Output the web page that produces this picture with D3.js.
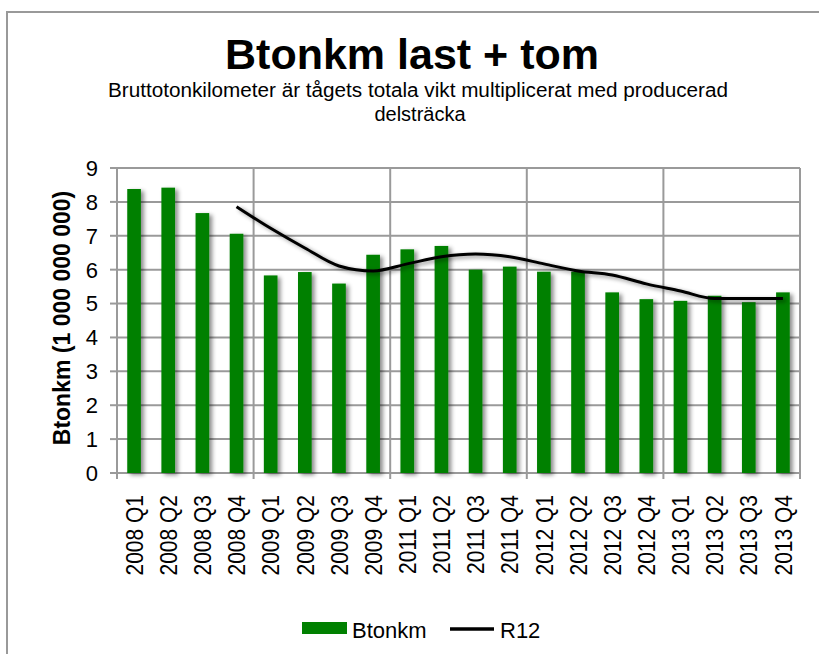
<!DOCTYPE html>
<html>
<head>
<meta charset="utf-8">
<script src="https://cdn.jsdelivr.net/npm/d3@7"></script>
<style>
  body { margin: 0; background: #fff; }
  text { font-family: Arial, "Liberation Sans", sans-serif; }
</style>
</head>
<body>
<div id="chart"></div>
<script>
// data (billions of gross tonne-km)
var categories = ["2008 Q1", "2008 Q2", "2008 Q3", "2008 Q4",
                  "2009 Q1", "2009 Q2", "2009 Q3", "2009 Q4",
                  "2011 Q1", "2011 Q2", "2011 Q3", "2011 Q4",
                  "2012 Q1", "2012 Q2", "2012 Q3", "2012 Q4",
                  "2013 Q1", "2013 Q2", "2013 Q3", "2013 Q4"];
var btonkm = [8.38, 8.42, 7.67, 7.06, 5.83, 5.93, 5.59, 6.44, 6.60, 6.70,
              6.00, 6.09, 5.94, 5.94, 5.33, 5.13, 5.08, 5.23, 5.04, 5.33];
var r12 = [null, null, null, 7.86, 7.22, 6.64, 6.11, 5.96, 6.17, 6.38,
           6.46, 6.38, 6.17, 5.96, 5.84, 5.58, 5.37, 5.15, 5.15, 5.15];
var yTicks = [0, 1, 2, 3, 4, 5, 6, 7, 8, 9];

var titleText = "Btonkm last + tom";
var subtitleLines = ["Bruttotonkilometer är tågets totala vikt multiplicerat med producerad", "delsträcka"];
var yTitle = "Btonkm (1 000 000 000)";
var legendNames = ["Btonkm", "R12"];

var attrs = {
  width: 819,
  height: 654,
  plotLeft: 117,
  plotRight: 800,
  plotTop: 168,
  plotBottom: 473,
  barColor: '#008000',
  lineColor: '#000',
  gridColor: '#9a9a9a',
  gridEvery: 4
};

var svg = d3.select('#chart').append('svg')
  .attr('width', attrs.width)
  .attr('height', attrs.height);

// soft drop shadow like the office chart
var defs = svg.append('defs');
var shadow = defs.append('filter').attr('id', 'shadow')
  .attr('x', '-50%').attr('y', '-10%').attr('width', '200%').attr('height', '130%');
shadow.append('feDropShadow')
  .attr('dx', 3).attr('dy', 2).attr('stdDeviation', 2)
  .attr('flood-color', '#000').attr('flood-opacity', 0.45);

// outer frame
svg.append('rect')
  .attr('x', 7).attr('y', 12)
  .attr('width', 830).attr('height', 670)
  .attr('fill', 'none')
  .attr('stroke', '#999').attr('stroke-width', 2);

var x = d3.scaleBand()
  .domain(categories)
  .range([attrs.plotLeft, attrs.plotRight])
  .paddingInner(0.6)
  .paddingOuter(0.3);

var y = d3.scaleLinear()
  .domain([0, 9])
  .range([attrs.plotBottom, attrs.plotTop]);

var step = x.step();
var gridX = d3.range(0, categories.length + 1, attrs.gridEvery)
  .map(function(i) { return attrs.plotLeft + i * step; });

// horizontal grid
svg.append('g').selectAll('line').data(yTicks).enter().append('line')
  .attr('x1', attrs.plotLeft).attr('x2', attrs.plotRight)
  .attr('y1', function(d) { return y(d); })
  .attr('y2', function(d) { return y(d); })
  .attr('stroke', attrs.gridColor).attr('stroke-width', 2);

// vertical grid every 4 quarters
svg.append('g').selectAll('line').data(gridX).enter().append('line')
  .attr('x1', function(d) { return d; }).attr('x2', function(d) { return d; })
  .attr('y1', attrs.plotTop).attr('y2', attrs.plotBottom + 6)
  .attr('stroke', attrs.gridColor).attr('stroke-width', 2);

// y tick marks
svg.append('g').selectAll('line').data(yTicks).enter().append('line')
  .attr('x1', attrs.plotLeft - 7).attr('x2', attrs.plotLeft)
  .attr('y1', function(d) { return y(d); })
  .attr('y2', function(d) { return y(d); })
  .attr('stroke', attrs.gridColor).attr('stroke-width', 2);

// bars
svg.append('g').attr('filter', 'url(#shadow)')
  .selectAll('rect').data(btonkm).enter().append('rect')
  .attr('x', function(d, i) { return x(categories[i]); })
  .attr('y', function(d) { return y(d); })
  .attr('width', x.bandwidth())
  .attr('height', function(d) { return y(0) - y(d); })
  .attr('fill', attrs.barColor);

// R12 line
var line = d3.line()
  .defined(function(d) { return d != null; })
  .x(function(d, i) { return x(categories[i]) + x.bandwidth() / 2; })
  .y(function(d) { return y(d); })
  .curve(d3.curveMonotoneX);

svg.append('path')
  .datum(r12)
  .attr('d', line)
  .attr('fill', 'none')
  .attr('stroke', attrs.lineColor)
  .attr('stroke-width', 3)
  .attr('stroke-linejoin', 'round')
  .attr('filter', 'url(#shadow)');

// y tick labels
svg.append('g').selectAll('text').data(yTicks).enter().append('text')
  .attr('x', 98)
  .attr('y', function(d) { return y(d); })
  .attr('dy', '0.36em')
  .attr('text-anchor', 'end')
  .attr('font-size', 22)
  .text(function(d) { return d; });

// x tick labels, rotated (glyphs a bit taller than normal, as in the picture)
svg.append('g').selectAll('text').data(categories).enter().append('text')
  .attr('transform', function(d) {
    return 'translate(' + (x(d) + x.bandwidth() / 2) + ',495) rotate(-90) scale(1,1.15)';
  })
  .attr('dy', '0.36em')
  .attr('text-anchor', 'end')
  .attr('font-size', 21)
  .text(function(d) { return d; });

// y axis title
svg.append('text')
  .attr('transform', 'translate(70,318) rotate(-90)')
  .attr('text-anchor', 'middle')
  .attr('font-size', 23)
  .attr('font-weight', 'bold')
  .text(yTitle);

// titles
svg.append('text')
  .attr('x', 412).attr('y', 69)
  .attr('text-anchor', 'middle')
  .attr('font-size', 43)
  .attr('font-weight', 'bold')
  .text(titleText);

svg.append('text')
  .attr('x', 418).attr('y', 97)
  .attr('text-anchor', 'middle')
  .attr('font-size', 20)
  .attr('textLength', 620)
  .attr('lengthAdjust', 'spacingAndGlyphs')
  .text(subtitleLines[0]);

svg.append('text')
  .attr('x', 420).attr('y', 121)
  .attr('text-anchor', 'middle')
  .attr('font-size', 20)
  .text(subtitleLines[1]);

// legend
var legend = svg.append('g');
legend.append('rect')
  .attr('x', 302).attr('y', 622).attr('width', 45).attr('height', 12)
  .attr('fill', attrs.barColor);
legend.append('text')
  .attr('x', 352).attr('y', 638)
  .attr('font-size', 22)
  .text(legendNames[0]);
legend.append('line')
  .attr('x1', 450).attr('x2', 494).attr('y1', 629).attr('y2', 629)
  .attr('stroke', attrs.lineColor).attr('stroke-width', 3.5);
legend.append('text')
  .attr('x', 500).attr('y', 638)
  .attr('font-size', 22)
  .text(legendNames[1]);
</script>
</body>
</html>
